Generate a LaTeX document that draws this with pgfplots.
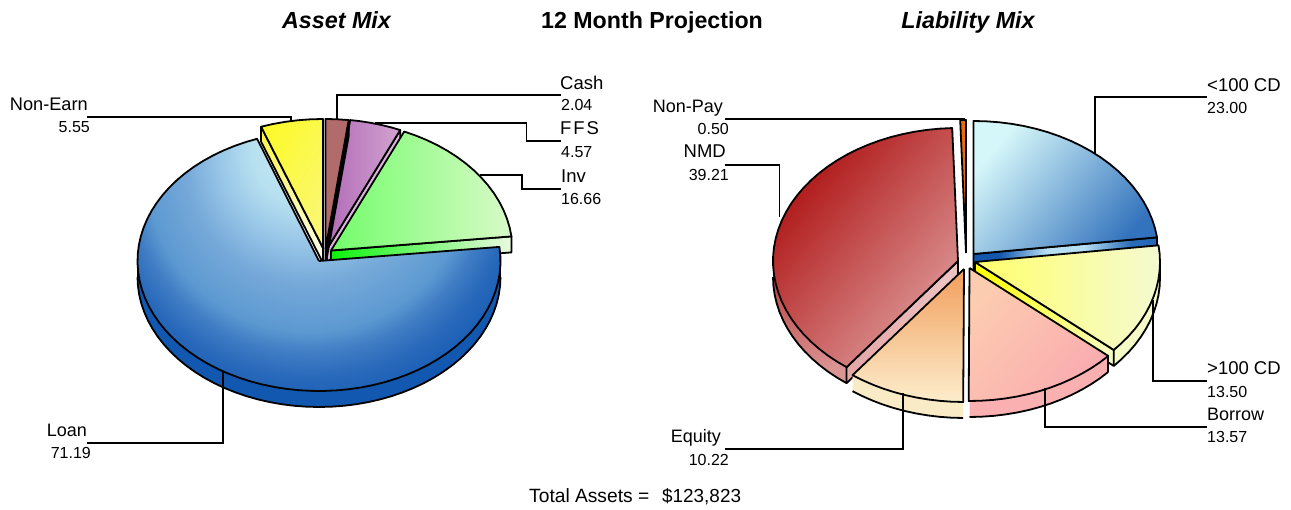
\documentclass[border=0pt]{standalone}
\usepackage{pgfplots}
\pgfplotsset{compat=1.18}
\usepackage{fontspec}
\setmainfont{Liberation Sans}
% shadings
\pgfdeclareradialshading{shLoan}{\pgfpoint{-1.9bp}{17.2bp}}{rgb(0bp)=(0.78,0.925,0.965); rgb(7.5bp)=(0.72,0.88,0.94); rgb(12bp)=(0.60,0.78,0.91); rgb(17bp)=(0.46,0.66,0.85); rgb(22.5bp)=(0.36,0.60,0.82); rgb(25bp)=(0.25,0.49,0.77); rgb(28bp)=(0.16,0.41,0.73); rgb(31bp)=(0.10,0.37,0.71); rgb(100bp)=(0.08,0.345,0.69)}
\newcommand\hsh[3]{\pgfdeclarehorizontalshading{#1}{100bp}{rgb(0bp)=(#2); rgb(25bp)=(#2); rgb(75bp)=(#3); rgb(100bp)=(#3)}}
\hsh{shNon}{0.99,0.98,0.18}{0.98,0.97,0.45}
\hsh{shNonW}{0.98,0.96,0.25}{1,1,0.97}
\hsh{shFFS}{0.70,0.42,0.72}{0.82,0.64,0.82}
\hsh{shInv}{0.45,0.99,0.42}{0.85,0.98,0.78}
\hsh{shInvW}{0.05,0.95,0.05}{0.92,0.98,0.88}
\hsh{shCD}{0.84,0.97,0.98}{0.20,0.45,0.74}
\pgfdeclarehorizontalshading{shCDW}{100bp}{rgb(0bp)=(0.07,0.34,0.68); rgb(32bp)=(0.07,0.34,0.68); rgb(45bp)=(0.72,0.88,0.96); rgb(55bp)=(0.72,0.88,0.96); rgb(68bp)=(0.16,0.42,0.72); rgb(100bp)=(0.07,0.34,0.68)}
\hsh{shBig}{1,1,0.42}{0.96,0.98,0.82}
\hsh{shBigW}{1,1,0}{0.97,0.99,0.78}
\hsh{shBor}{0.99,0.80,0.69}{0.98,0.67,0.69}
\hsh{shEq}{0.95,0.62,0.36}{0.99,0.93,0.80}
\hsh{shNMD}{0.68,0.07,0.07}{0.87,0.60,0.60}
\hsh{shNMDO}{0.74,0.30,0.30}{0.86,0.58,0.58}
\hsh{shNMDR}{0.90,0.66,0.66}{0.93,0.76,0.76}
% geometry helpers: angles come from the percentage shares
\newcommand\buildarc[7]{%
  \gdef\pts{}%
  \pgfmathsetmacro\myA{#5*3.6}\pgfmathsetmacro\myB{#6*3.6}%
  \pgfmathtruncatemacro\myN{max(2,ceil(abs(\myB-\myA)/4))}%
  \pgfmathsetmacro\mySt{(\myB-\myA)/\myN}%
  \foreach \myI in {0,...,\myN}{%
    \pgfmathsetmacro\myT{\myA+\myI*\mySt}%
    \pgfmathsetmacro\myX{#1+#3*sin(\myT)}%
    \pgfmathsetmacro\myY{#2-#4*cos(\myT)+#7}%
    \xdef\pts{\pts (\myX,\myY)}%
  }}
\newcommand\plotpoly[2]{\edef\mytmp{\noexpand\addplot[forget plot,mark=none,\unexpanded{#1}] coordinates {#2};}\mytmp}
\tikzset{ed/.style={draw=black,line width=1.8pt,line join=round}}
% face: cx cy rx ry startshare endshare style
\newcommand\face[7]{\buildarc{#1}{#2}{#3}{#4}{#5}{#6}{0}\plotpoly{ed,#7}{(#1,#2) \pts (#1,#2)}}
% outer wall: cx cy rx ry start end t style
\newcommand\owall[8]{\buildarc{#1}{#2}{#3}{#4}{#5}{#6}{0}\let\ptsA\pts
  \buildarc{#1}{#2}{#3}{#4}{#6}{#5}{#7}\plotpoly{draw=none,#8}{\ptsA\pts}\plotpoly{ed}{\pts}}
% radial wall: cx cy rx ry share t style
\newcommand\rwall[7]{\pgfmathsetmacro\pX{#1+#3*sin(#5*3.6)}\pgfmathsetmacro\pY{#2-#4*cos(#5*3.6)}\pgfmathsetmacro\pZ{\pY+#6}\pgfmathsetmacro\cZ{#2+#6}%
  \plotpoly{ed,#7}{(#1,#2) (\pX,\pY) (\pX,\pZ) (#1,\cZ) (#1,#2)}}
% vertical edge of a wall
\newcommand\vedge[6]{\pgfmathsetmacro\pX{#1+#3*sin(#5*3.6)}\pgfmathsetmacro\pY{#2-#4*cos(#5*3.6)}\pgfmathsetmacro\pZ{\pY+#6}\plotpoly{ed}{(\pX,\pY) (\pX,\pZ)}}
\newcommand\lab[5]{\node[anchor=#1,inner sep=0pt,text=black] at (axis cs:#2,#3) {\fontsize{#4}{#4}\selectfont #5};}
\begin{document}
\begin{tikzpicture}
\path[use as bounding box] (0,0) rectangle (1291pt,510pt);
\begin{axis}[at={(0,0)},anchor=south west,scale only axis,width=1291pt,height=510pt,xmin=0,xmax=1291,ymin=0,ymax=510,y dir=reverse,hide axis,clip=false]
% ---------- Asset Mix
\rwall{327}{249}{181.5}{130}{6.61}{16}{fill={rgb,1:red,0.87;green,0.70;blue,0.87}}
\face{327}{249}{181.5}{130}{2.04}{6.61}{shade,shading=shFFS}
\rwall{331}{250.5}{181.5}{130}{23.27}{16}{shade,shading=shInvW}
\face{331}{250.5}{181.5}{130}{6.61}{23.27}{shade,shading=shInv}
\rwall{325.5}{249}{181.5}{130}{2.04}{16}{fill=black}
\face{325.5}{249}{181.5}{130}{0}{2.04}{fill={rgb,1:red,0.70;green,0.42;blue,0.42}}
\rwall{323}{248}{181.5}{129}{94.46}{15}{shade,shading=shNonW,shading angle=-90}
\face{323}{248}{181.5}{129}{94.46}{100}{shade,shading=shNon,shading angle=-30}
\owall{319}{261}{181.5}{130}{25}{75}{16}{fill={rgb,1:red,0.07;green,0.345;blue,0.69}}
\vedge{319}{261}{181.5}{130}{25}{16}
\vedge{319}{261}{181.5}{130}{75}{16}
\face{319}{261}{181.5}{130}{23.27}{94.46}{/utils/exec={\pgfsetadditionalshadetransform{\pgftransformyscale{1.44}}},shade,shading=shLoan}
% leaders
\plotpoly{black,line width=1.8pt}{(561,95) (337,95) (337,119)}
\plotpoly{black,line width=1.8pt}{(561,141) (526.5,141) (526.5,122.7) (375,122.7)}
\plotpoly{black,line width=1.8pt}{(561,189) (522,189) (522,175) (480,175)}
\plotpoly{black,line width=1.8pt}{(87,117) (290.6,117) (290.6,122)}
\plotpoly{black,line width=1.8pt}{(87,442.7) (223,442.7) (223,371.7)}
% ---------- Liability Mix
\face{966}{253}{185}{133}{99.5}{100}{fill={rgb,1:red,0.91;green,0.42;blue,0.06}}
\rwall{973.5}{254}{185}{133}{23}{16}{shade,shading=shCDW}
\face{973.5}{254}{185}{133}{0}{23}{shade,shading=shCD,shading angle=-40}
\owall{975}{262}{185}{133}{25}{36.5}{16}{fill={rgb,1:red,0.96;green,0.98;blue,0.78}}
\rwall{975}{262}{185}{133}{36.5}{16}{shade,shading=shBigW}
\vedge{975}{262}{185}{133}{25}{16}
\face{975}{262}{185}{133}{23}{36.5}{shade,shading=shBig}
\owall{969.5}{268}{185}{133}{36.5}{50}{16}{fill={rgb,1:red,0.98;green,0.69;blue,0.69}}
\vedge{969.5}{268}{185}{133}{36.5}{16}
\face{969.5}{268}{185}{133}{36.5}{50.07}{shade,shading=shBor,shading angle=-40}
\owall{958}{261}{185}{133}{60.29}{75}{16}{shade,shading=shNMDO,shading angle=-60}
\rwall{958}{261}{185}{133}{60.29}{16}{shade,shading=shNMDR,shading angle=30}
\face{958}{261}{185}{133}{60.29}{99.5}{shade,shading=shNMD,shading angle=-40}
\owall{964}{269}{185}{133}{50.07}{60.29}{16}{fill={rgb,1:red,0.98;green,0.92;blue,0.78}}
\face{964}{269}{185}{133}{50.07}{60.29}{shade,shading=shEq,shading angle=-90}
% leaders
\plotpoly{black,line width=1.8pt}{(1207,96.7) (1095,96.7) (1095,153)}
\plotpoly{black,line width=1.8pt}{(725,119) (964,119) (964,121)}
\plotpoly{black,line width=1.8pt}{(725,165) (779.5,165) (779.5,216.7)}
\plotpoly{black,line width=1.8pt}{(1207,381) (1153,381) (1153,300)}
\plotpoly{black,line width=1.8pt}{(1207,426.7) (1045,426.7) (1045,388)}
\plotpoly{black,line width=1.8pt}{(725,448.7) (903,448.7) (903,393)}
% ---------- texts
\lab{base}{336.5}{29}{23.3}{\bfseries\itshape Asset Mix}
\lab{base}{652}{29}{23.2}{\bfseries 12 Month Projection}
\lab{base}{968}{29}{23.3}{\bfseries\itshape Liability Mix}
\lab{base west}{560}{90}{18.5}{Cash}
\lab{base west}{561}{110.5}{16}{2.04}
\lab{base west}{560}{135}{18.5}{\addfontfeature{LetterSpace=10}FFS}
\lab{base west}{561}{157.5}{16}{4.57}
\lab{base west}{561}{183}{18.5}{Inv}
\lab{base west}{561}{205}{16}{16.66}
\lab{base east}{88}{111}{18.2}{Non-Earn}
\lab{base east}{90}{133}{16}{5.55}
\lab{base east}{87}{437}{18}{Loan}
\lab{base east}{91}{459}{16}{71.19}
\lab{base west}{1207}{92}{18.5}{<100 CD}
\lab{base west}{1207}{114}{16}{23.00}
\lab{base west}{1207}{375}{18.5}{>100 CD}
\lab{base west}{1207}{398}{16}{13.50}
\lab{base west}{1207}{421}{18}{Borrow}
\lab{base west}{1207}{443}{16}{13.57}
\lab{base east}{723}{113}{18}{Non-Pay}
\lab{base east}{729}{135}{16}{0.50}
\lab{base east}{726}{158}{18.5}{NMD}
\lab{base east}{729}{181}{16}{39.21}
\lab{base east}{721}{443}{18}{Equity}
\lab{base east}{729}{465}{16}{10.22}
\lab{base west}{529}{503}{19.2}{Total Assets =}
\lab{base west}{662}{502}{18.9}{\$123,823}
\end{axis}
\end{tikzpicture}
\end{document}
